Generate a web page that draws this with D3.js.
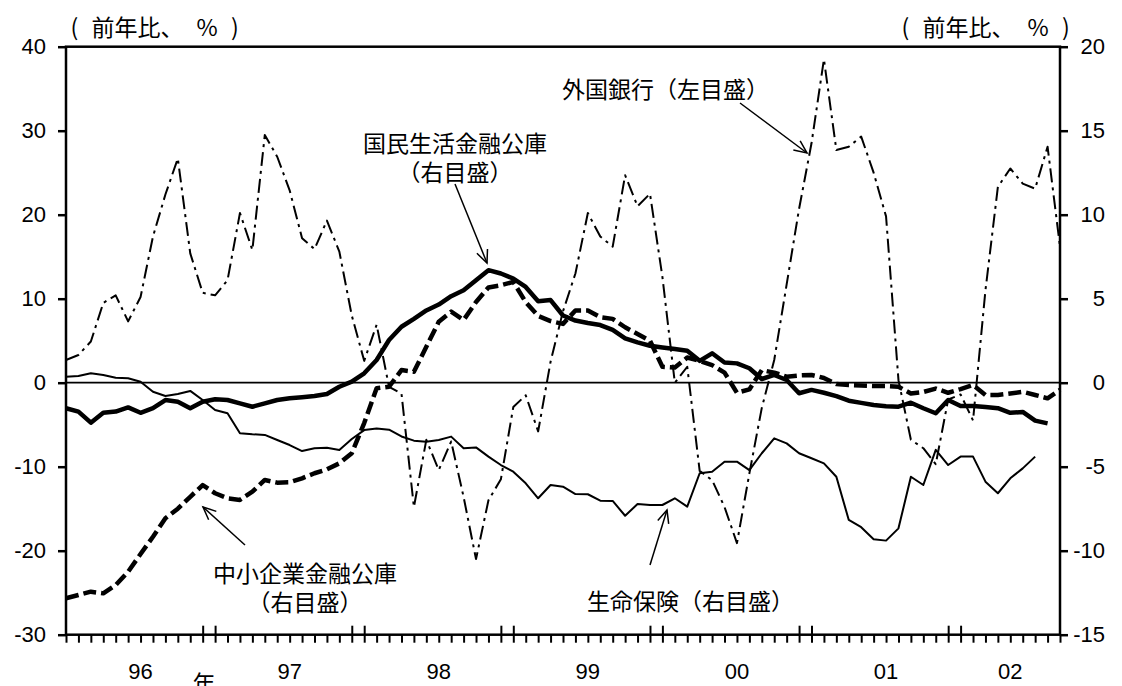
<!DOCTYPE html>
<html>
<head>
<meta charset="utf-8">
<script src="https://cdn.jsdelivr.net/npm/d3@7"></script>
<style>
  body { margin: 0; background: #fff; }
  svg { display: block; }
  .num { font-family: "Liberation Sans", Arial, sans-serif; font-size: 22px; fill: #000; }
  .jp  { font-family: "Noto Sans CJK JP", sans-serif; font-size: 23px; fill: #000;
         text-spacing-trim: space-all; }
  .unit { word-spacing: 8px; }
</style>
</head>
<body>
<svg id="chart" width="1122" height="686"></svg>
<script>
// ---- data: year-on-year change (%), monthly, Jan 1996 – Sep 2002 ----
const years = ["96", "97", "98", "99", "00", "01", "02"];
const months = d3.timeMonth.range(new Date(1996, 0, 1), new Date(2002, 9, 1))
  .map(d3.timeFormat("%Y-%m"));

const leftTicks  = [-30, -20, -10, 0, 10, 20, 30, 40];
const rightTicks = [-15, -10, -5, 0, 5, 10, 15, 20];

// 外国銀行 (left scale)
const foreignBanks = [
  2.7, 3.3, 4.9, 9.5, 10.4, 7.3, 10.2, 17.4, 22.4, 26.7, 15.4, 10.7,
  10.4, 12.2, 20.2, 15.8, 29.5, 26.9, 22.9, 17.2, 15.9, 19.3, 15.6, 8.0,
  2.6, 6.9, -0.5, -1.3, -14.8, -6.8, -10.4, -7.0, -13.6, -21.0, -14.0, -11.5,
  -2.9, -1.5, -5.8, 2.5, 8.5, 13.0, 20.2, 17.4, 16.2, 24.7, 21.0, 22.5,
  12.6, 0.0, 1.9, -10.5, -11.6, -14.8, -19.1, -10.8, -3.0, 2.7, 11.7, 20.7,
  28.5, 38.5, 27.7, 28.1, 29.3, 25.0, 19.8, 0.3, -6.8, -7.8, -9.7, -2.0,
  -1.4, -4.5, 11.0, 23.3, 25.5, 23.7, 23.1, 28.1, 16.2
];

// 国民生活金融公庫 (right scale)
const nationalLife = [
  -1.52, -1.72, -2.38, -1.79, -1.72, -1.47, -1.79, -1.52, -1.03, -1.13, -1.52, -1.13,
  -0.99, -1.03, -1.23, -1.43, -1.23, -1.03, -0.93, -0.86, -0.79, -0.67, -0.24, 0.06,
  0.56, 1.35, 2.54, 3.33, 3.8, 4.3, 4.65, 5.15, 5.5, 6.1, 6.7, 6.5,
  6.2, 5.7, 4.85, 4.92, 4.0, 3.7, 3.55, 3.43, 3.14, 2.64, 2.4, 2.2,
  2.1, 2.0, 1.9, 1.3, 1.75, 1.2, 1.15, 0.86, 0.22, 0.46, 0.16, -0.63,
  -0.43, -0.6, -0.8, -1.07, -1.2, -1.33, -1.4, -1.43, -1.19, -1.52, -1.82, -1.03,
  -1.39, -1.39, -1.45, -1.52, -1.79, -1.74, -2.26, -2.42, null
];

// 中小企業金融公庫 (right scale)
const smeCorp = [
  -12.83, -12.64, -12.44, -12.54, -12.04, -11.25, -10.2, -9.17, -8.07, -7.5, -6.79, -6.1,
  -6.58, -6.88, -6.98, -6.49, -5.79, -5.95, -5.93, -5.69, -5.39, -5.16, -4.8, -4.2,
  -2.4, -0.33, -0.24, 0.75, 0.65, 2.14, 3.63, 4.23, 3.73, 4.8, 5.67, 5.8,
  6.0, 4.8, 3.97, 3.67, 3.5, 4.3, 4.3, 3.9, 3.8, 3.3, 2.9, 2.5,
  0.95, 0.9, 1.5, 1.3, 1.05, 0.6, -0.6, -0.4, 0.75, 0.6, 0.36, 0.43,
  0.46, 0.28, -0.08, -0.14, -0.17, -0.2, -0.2, -0.24, -0.64, -0.55, -0.35, -0.6,
  -0.38, -0.14, -0.73, -0.73, -0.64, -0.54, -0.73, -0.93, -0.43
];

// 生命保険 (right scale)
const lifeInsurance = [
  0.36, 0.4, 0.56, 0.46, 0.3, 0.26, 0.06, -0.54, -0.79, -0.67, -0.49, -1.03,
  -1.63, -1.82, -3.01, -3.07, -3.11, -3.41, -3.71, -4.07, -3.9, -3.87, -4.0, -3.35,
  -2.82, -2.72, -2.8, -3.2, -3.45, -3.51, -3.41, -3.21, -3.9, -3.85, -4.4, -4.9,
  -5.3, -5.99, -6.88, -6.09, -6.19, -6.63, -6.64, -7.02, -7.04, -7.92, -7.22, -7.28,
  -7.28, -6.88, -7.38, -5.39, -5.3, -4.7, -4.7, -5.2, -4.2, -3.31, -3.61, -4.2,
  -4.5, -4.8, -5.6, -8.17, -8.6, -9.32, -9.4, -8.67, -5.6, -6.09, -4.0, -4.9,
  -4.4, -4.4, -5.89, -6.58, -5.69, -5.1, -4.4, null, null
];

// ---- layout ----
const svg = d3.select("#chart");
const plot = { left: 66, right: 1060, top: 46.7, bottom: 634.7 };

const x = d3.scalePoint().domain(months).range([plot.left, plot.right]);
const yL = d3.scaleLinear().domain([-30, 40]).range([plot.bottom, plot.top]);
const yR = d3.scaleLinear().domain([-15, 20]).range([plot.bottom, plot.top]);

// zero line
svg.append("line")
  .attr("x1", plot.left).attr("x2", plot.right)
  .attr("y1", yL(0)).attr("y2", yL(0))
  .attr("stroke", "#000").attr("stroke-width", 1.8);

// series
function drawSeries(values, yScale, width, dash) {
  const line = d3.line()
    .defined(d => d != null)
    .x((d, i) => x(months[i]))
    .y(d => yScale(d));
  svg.append("path")
    .datum(values)
    .attr("fill", "none")
    .attr("stroke", "#000")
    .attr("stroke-width", width)
    .attr("stroke-linejoin", "round")
    .attr("stroke-dasharray", dash)
    .attr("d", line);
}
drawSeries(foreignBanks, yL, 2, "14,5,3,5");
drawSeries(lifeInsurance, yR, 2, null);
drawSeries(smeCorp, yR, 4.5, "13,5");
drawSeries(nationalLife, yR, 4.5, null);

// frame
svg.append("rect")
  .attr("x", plot.left).attr("y", plot.top)
  .attr("width", plot.right - plot.left).attr("height", plot.bottom - plot.top)
  .attr("fill", "none").attr("stroke", "#000").attr("stroke-width", 2.5);

// left axis
const gL = svg.append("g").attr("transform", `translate(${plot.left},0)`)
  .call(d3.axisLeft(yL).tickValues(leftTicks).tickSize(8).tickPadding(12)
    .tickFormat(d => String(d)));
gL.select(".domain").remove();
gL.selectAll(".tick line").attr("stroke-width", 2.5);
gL.selectAll("text").attr("class", "num").attr("font-family", null).attr("font-size", null);

// right axis
const gR = svg.append("g").attr("transform", `translate(${plot.right},0)`)
  .call(d3.axisRight(yR).tickValues(rightTicks).tickSize(8)
    .tickFormat(d => String(d)));
gR.select(".domain").remove();
gR.selectAll(".tick line").attr("stroke-width", 2.5);
gR.selectAll("text").attr("class", "num").attr("font-family", null).attr("font-size", null)
  .attr("text-anchor", "end").attr("x", 45);

// bottom axis: monthly ticks, doubled long ticks at each year change
const gB = svg.append("g").attr("transform", `translate(0,${plot.bottom})`)
  .call(d3.axisBottom(x).tickSize(8).tickFormat(""));
gB.select(".domain").remove();
gB.selectAll(".tick line").attr("stroke-width", 2);
gB.selectAll(".tick")
  .filter(d => d.endsWith("-12") || (d.endsWith("-01") && d !== months[0]))
  .select("line").attr("y1", -9).attr("y2", 8);

years.forEach((yr, k) => {
  const a = x(months[k * 12]);
  const b = x(months[Math.min(k * 12 + 12, months.length - 1)]);
  svg.append("text").attr("class", "num")
    .attr("x", (a + b) / 2).attr("y", 679)
    .attr("text-anchor", "middle").text(yr);
});
svg.append("text").attr("class", "jp").attr("x", 204).attr("y", 692)
  .attr("text-anchor", "middle").text("年");

// unit captions
svg.append("text").attr("class", "jp unit").attr("x", 70.5).attr("y", 36).text("( 前年比、 % )");
svg.append("text").attr("class", "jp unit").attr("x", 901.5).attr("y", 36).text("( 前年比、 % )");

// annotations with arrows
function arrow(x1, y1, x2, y2) {
  svg.append("line").attr("x1", x1).attr("y1", y1).attr("x2", x2).attr("y2", y2)
    .attr("stroke", "#000").attr("stroke-width", 1.5);
  const ang = Math.atan2(y2 - y1, x2 - x1), len = 14, spread = 0.42;
  const pts = [ang + Math.PI - spread, ang + Math.PI + spread].map(a =>
    [x2 + len * Math.cos(a), y2 + len * Math.sin(a)]);
  svg.append("path")
    .attr("d", `M${pts[0][0]},${pts[0][1]}L${x2},${y2}L${pts[1][0]},${pts[1][1]}`)
    .attr("fill", "none").attr("stroke", "#000").attr("stroke-width", 1.5);
}
function label(lines, cx, y, anchor) {
  const t = svg.append("text").attr("class", "jp")
    .attr("x", cx).attr("y", y).attr("text-anchor", anchor);
  lines.forEach((s, i) => {
    t.append("tspan").attr("x", cx).attr("dy", i === 0 ? 0 : 29).text(s);
  });
}

label(["外国銀行（左目盛）"], 562, 98, "start");
arrow(740, 103, 807, 153);

label(["国民生活金融公庫", "（右目盛）"], 455, 152, "middle");
arrow(455, 184, 487, 263);

label(["中小企業金融公庫", "（右目盛）"], 305, 582, "middle");
arrow(245, 545, 203, 507);

label(["生命保険（右目盛）"], 587, 610, "start");
arrow(650, 565, 667, 510);
</script>
</body>
</html>
